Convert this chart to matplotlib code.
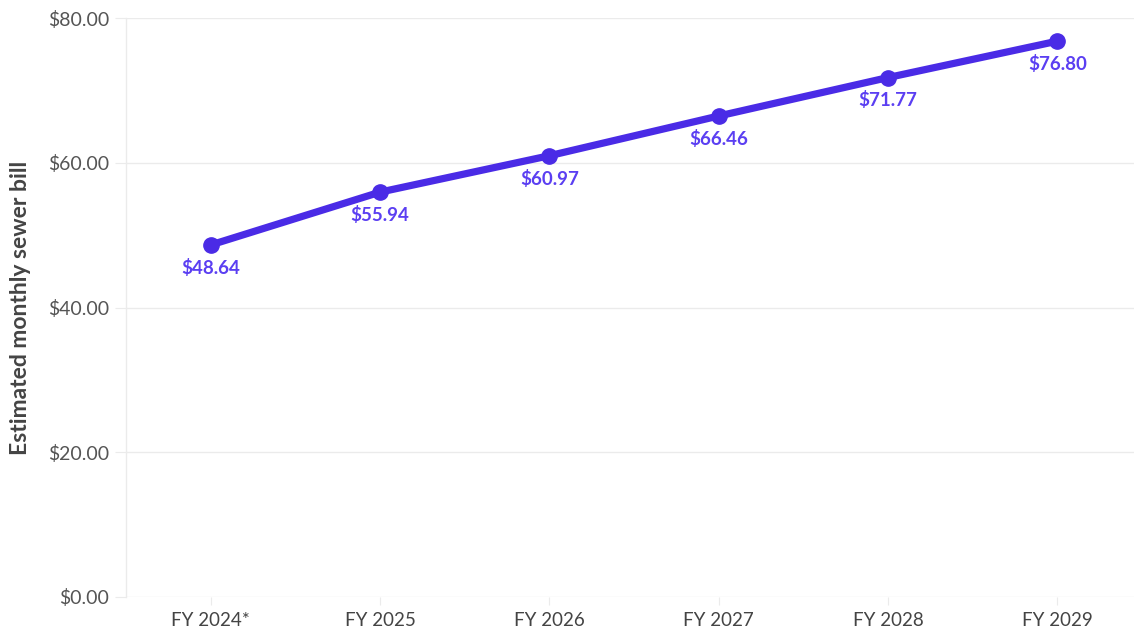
import matplotlib.pyplot as plt

# monthly sewer bill projection
years = ['FY 2024*', 'FY 2025', 'FY 2026', 'FY 2027', 'FY 2028', 'FY 2029']
bills = [48.64, 55.94, 60.97, 66.46, 71.77, 76.80]
y_ticks = [0, 20, 40, 60, 80]

plt.rcParams['font.family'] = ['Lato', 'DejaVu Sans']

fig = plt.figure(figsize=(11.34, 6.33), dpi=100)
# axes run a bit past the right edge of the figure
ax = fig.add_axes([126 / 1134, 36 / 633, 1016 / 1134, 579 / 633])

line_color = '#4a2be6'
label_color = '#5b3ff2'
grid_color = '#ebebeb'

x = list(range(len(years)))
ax.plot(x, bills, color=line_color, linewidth=5.2, marker='o', markersize=11,
        solid_capstyle='round', zorder=3)

for xi, v in zip(x, bills):
    ax.annotate(f'${v:.2f}', (xi, v), xytext=(0, -16.5), textcoords='offset points',
                ha='center', va='center', color=label_color, fontsize=13.5,
                fontweight='bold')

ax.set_xlim(-0.5, len(years) - 0.5)
ax.set_ylim(0, 80)
ax.set_xticks(x)
ax.set_xticklabels(years)
ax.set_yticks(y_ticks)
ax.set_yticklabels([f'${t:.2f}' for t in y_ticks])

ax.grid(axis='y', color=grid_color, linewidth=1)
ax.set_axisbelow(True)
for side in ['top', 'right', 'bottom']:
    ax.spines[side].set_visible(False)
ax.spines['left'].set_color(grid_color)
ax.spines['left'].set_linewidth(1)

ax.tick_params(axis='y', length=8, color=grid_color, labelcolor='#555555',
               labelsize=14, pad=4)
ax.tick_params(axis='x', length=6, color=grid_color, labelcolor='#444444',
               labelsize=13.5, pad=5)

ax.set_ylabel('Estimated monthly sewer bill', fontsize=16.5, fontweight='bold',
              color='#444444', labelpad=12)

fig.savefig('out.png', dpi=100, facecolor='white')
